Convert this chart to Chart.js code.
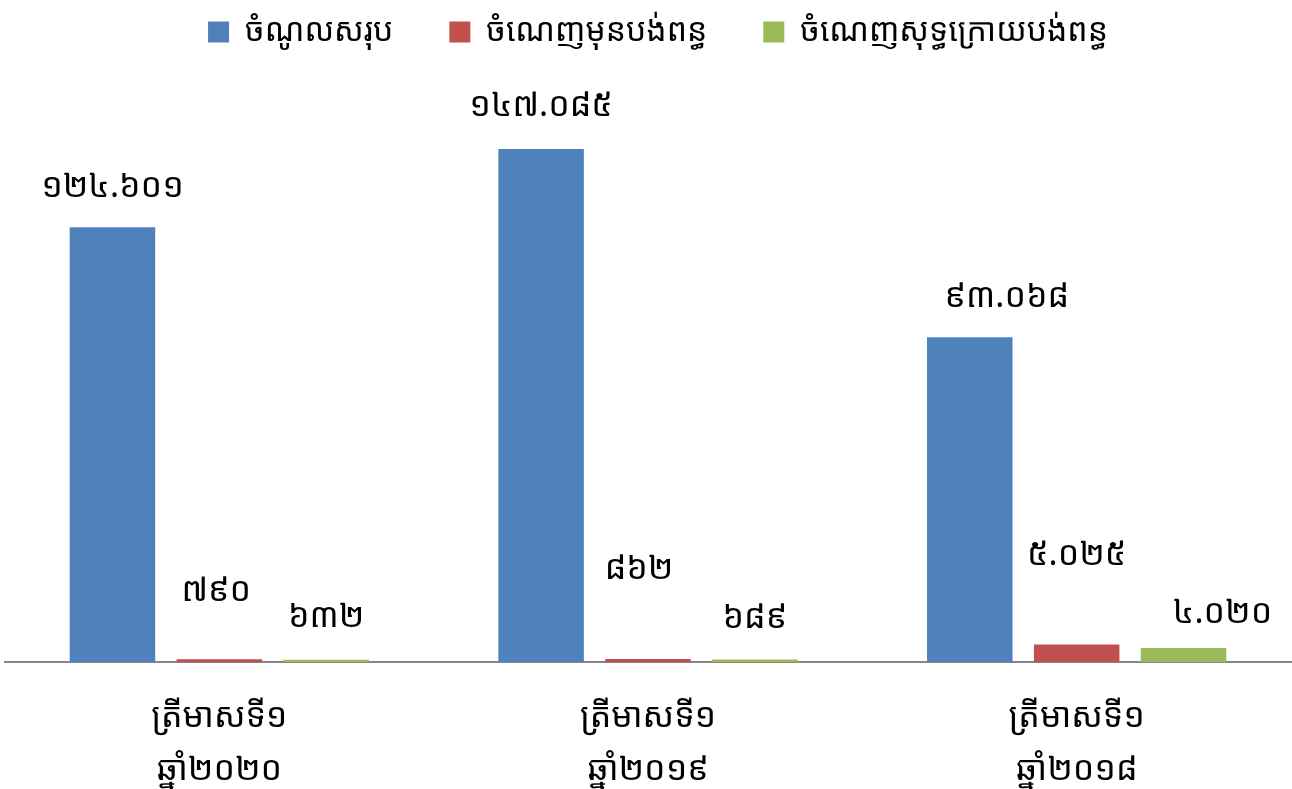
<!DOCTYPE html>
<html>
<head>
<meta charset="utf-8">
<script src="https://cdn.jsdelivr.net/npm/chart.js@4.4.0/dist/chart.umd.min.js"></script>
<style>
html, body { margin: 0; padding: 0; background: #fff; }
#wrap { width: 1292px; height: 789px; }
</style>
</head>
<body>
<div id="wrap"><canvas id="chart"></canvas></div>
<script>
// data
const categories = [['ត្រីមាសទី១', 'ឆ្នាំ២០២០'], ['ត្រីមាសទី១', 'ឆ្នាំ២០១៩'], ['ត្រីមាសទី១', 'ឆ្នាំ២០១៨']]
const seriesNames = ['ចំណូលសរុប', 'ចំណេញមុនបង់ពន្ធ', 'ចំណេញសុទ្ធក្រោយបង់ពន្ធ']
const revenue = [124601, 147085, 93068]
const profitBeforeTax = [790, 862, 5025]
const netProfit = [632, 689, 4020]

const colors = ['#4F81BD', '#C0504D', '#9BBB59']
const khmerFont = "'Khmer OS', 'Noto Sans Khmer', 'Khmer OS System', 'DejaVu Sans', sans-serif"
const legendPad = 56

// hand-moved labels in the original: extra shift [dx, dy] per series / category
const labelShift = [
    [[0, 0], [0, 3], [37, 0]],
    [[-3, 28], [-9, 50], [0, 49]],
    [[0, 2], [0, 1], [39, -5]]
]

function khmerNumber(n) {
    const s = String(n).replace(/\B(?=(\d{3})+(?!\d))/g, '.')
    return s.replace(/\d/g, d => String.fromCharCode(0x17E0 + Number(d)))
}

const valueLabels = {
    id: 'valueLabels',
    afterDatasetsDraw(chart) {
        const ctx = chart.ctx
        ctx.save()
        ctx.font = '34px ' + khmerFont
        ctx.fillStyle = '#000'
        ctx.textAlign = 'center'
        ctx.textBaseline = 'middle'
        chart.data.datasets.forEach((ds, i) => {
            chart.getDatasetMeta(i).data.forEach((bar, j) => {
                const [dx, dy] = labelShift[i][j]
                ctx.fillText(khmerNumber(ds.data[j]), bar.x + dx, bar.y - 40 - dy)
            })
        })
        ctx.restore()
    }
}

// fixed legend band, items pulled up so the wide item gap doesn't push them down
const legendBand = {
    id: 'legendBand',
    beforeInit(chart) {
        const fit = chart.legend.fit
        chart.legend.fit = function () {
            fit.bind(chart.legend)()
            this.height = 62
        }
    },
    afterLayout(chart) {
        chart.legend.top = 16 - legendPad
        chart.legend.left += 10
        chart.legend.right += 10
    }
}

function initChart() {
    const ctx = document.getElementById('chart').getContext('2d')
    new Chart(ctx, {
        type: 'bar',
        data: {
            labels: categories,
            datasets: [revenue, profitBeforeTax, netProfit].map((d, i) => ({
                label: seriesNames[i],
                data: d,
                backgroundColor: colors[i],
                borderWidth: 0
            }))
        },
        options: {
            responsive: true,
            maintainAspectRatio: false,
            animation: false,
            layout: { padding: { left: 5, right: 1, top: 0, bottom: 0 } },
            datasets: {
                bar: { categoryPercentage: 0.748, barPercentage: 0.8 }
            },
            scales: {
                x: {
                    grid: { display: false },
                    border: { color: '#868686', width: 2 },
                    ticks: {
                        color: '#000',
                        padding: 21,
                        font: { size: 34, family: khmerFont, lineHeight: 1.56 }
                    },
                    afterFit(scale) { scale.height = 127 }
                },
                y: {
                    display: false,
                    min: 0,
                    max: 172000
                }
            },
            plugins: {
                legend: {
                    position: 'top',
                    labels: {
                        color: '#000',
                        boxWidth: 21,
                        boxHeight: 21,
                        padding: legendPad,
                        font: { size: 32, family: khmerFont }
                    }
                },
                tooltip: { enabled: false }
            }
        },
        plugins: [legendBand, valueLabels]
    })
}

initChart()
</script>
</body>
</html>
